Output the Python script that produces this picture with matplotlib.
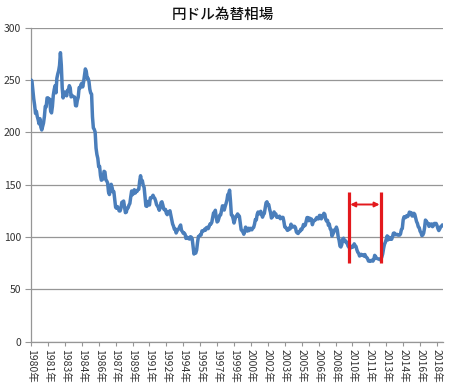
import matplotlib
matplotlib.use("Agg")
import matplotlib.pyplot as plt
import numpy as np

plt.rcParams['font.family'] = ['Noto Sans CJK JP', 'DejaVu Sans']

# Monthly USD/JPY rates, Jan 1980 - Jul 2018
y1980 = [250, 249, 240, 232, 226, 218, 220, 215, 212, 208, 213, 205]
y1981 = [202.2, 205.7, 208.8, 215.1, 224.8, 224.2, 232.8, 232.9, 229.8, 231.6, 220.3, 218.5]
y1982 = [224.7, 235.4, 240.7, 244.5, 237.7, 251.5, 255.6, 258.7, 263.8, 276.0, 264.1, 242.5]
y1983 = [232.8, 236.0, 238.4, 237.7, 234.8, 240.1, 240.6, 244.5, 242.4, 233.8, 235.2, 234.3]
y1984 = [233.8, 233.6, 225.4, 225.2, 230.5, 233.5, 242.6, 242.2, 245.4, 246.8, 243.3, 247.9]
y1985 = [254.1, 260.5, 258.4, 251.7, 251.6, 248.8, 241.1, 237.5, 236.5, 214.7, 204.1, 202.8]
y1986 = [200.1, 184.9, 178.7, 175.1, 167.0, 167.5, 158.6, 154.2, 154.7, 156.5, 162.7, 162.0]
y1987 = [154.5, 153.5, 151.6, 143.0, 140.5, 144.6, 150.3, 147.3, 143.3, 143.3, 135.4, 128.3]
y1988 = [127.4, 129.0, 127.2, 124.9, 124.8, 127.5, 133.1, 133.6, 134.3, 128.5, 123.2, 123.7]
y1989 = [127.4, 127.8, 130.4, 132.0, 138.4, 143.9, 140.4, 141.5, 145.1, 141.9, 143.5, 143.5]
y1990 = [145.1, 145.5, 153.2, 158.5, 153.5, 153.8, 149.3, 147.4, 138.4, 129.6, 129.2, 133.9]
y1991 = [133.7, 130.5, 137.4, 137.1, 138.2, 139.8, 137.8, 136.8, 134.3, 130.8, 129.6, 128.0]
y1992 = [125.5, 127.7, 132.9, 133.6, 130.6, 126.8, 125.8, 126.3, 122.6, 121.3, 123.9, 123.9]
y1993 = [125.0, 120.8, 117.0, 112.4, 110.3, 107.4, 107.7, 103.8, 105.7, 107.0, 107.9, 109.9]
y1994 = [111.4, 106.3, 105.1, 103.5, 103.8, 102.5, 98.6, 99.9, 98.8, 98.4, 98.0, 100.2]
y1995 = [99.8, 98.2, 90.8, 83.7, 85.2, 84.6, 87.4, 94.7, 100.5, 100.7, 101.9, 101.9]
y1996 = [105.8, 105.8, 105.9, 107.4, 106.5, 108.8, 109.2, 107.9, 109.9, 112.4, 112.3, 113.9]
y1997 = [118.2, 123.0, 122.6, 125.5, 118.9, 114.3, 115.1, 117.9, 120.9, 121.1, 125.4, 129.7]
y1998 = [129.6, 125.7, 129.0, 131.8, 135.0, 140.5, 140.7, 144.7, 134.5, 121.1, 120.6, 117.4]
y1999 = [113.3, 116.7, 119.6, 119.8, 122.0, 120.7, 119.8, 113.2, 106.9, 105.9, 104.7, 102.6]
y2000 = [105.3, 109.4, 106.3, 105.6, 108.3, 106.1, 108.2, 108.1, 106.8, 108.4, 109.0, 112.2]
y2001 = [116.7, 116.2, 121.5, 123.8, 122.0, 122.3, 124.5, 121.5, 118.9, 121.3, 122.4, 127.3]
y2002 = [132.7, 133.6, 131.1, 130.8, 126.4, 123.3, 118.1, 119.0, 120.5, 123.9, 121.6, 121.9]
y2003 = [118.8, 119.3, 118.7, 119.9, 117.4, 118.3, 118.7, 118.7, 114.8, 109.5, 109.2, 107.7]
y2004 = [106.3, 106.7, 108.5, 107.7, 112.2, 109.4, 109.5, 110.2, 110.1, 108.9, 104.8, 103.8]
y2005 = [103.3, 104.9, 105.3, 107.4, 106.9, 108.8, 111.9, 110.6, 111.2, 114.9, 118.5, 118.5]
y2006 = [115.5, 117.9, 117.3, 117.1, 111.7, 114.6, 115.6, 115.9, 117.2, 118.6, 117.3, 117.3]
y2007 = [120.6, 120.5, 117.3, 118.8, 120.8, 122.6, 121.6, 116.7, 115.0, 115.9, 111.1, 112.4]
y2008 = [107.8, 107.2, 100.8, 102.6, 104.4, 106.9, 106.9, 109.4, 106.6, 100.1, 96.9, 91.3]
y2009 = [90.4, 92.6, 97.9, 98.8, 96.4, 96.6, 94.5, 94.9, 91.4, 90.3, 89.1, 89.5]
y2010 = [91.1, 90.1, 90.7, 93.4, 91.8, 90.9, 87.7, 85.4, 84.4, 81.8, 82.4, 83.4]
y2011 = [82.6, 82.6, 81.7, 83.2, 81.1, 80.4, 79.3, 77.0, 76.8, 76.7, 77.5, 77.8]
y2012 = [76.9, 78.5, 82.4, 81.3, 79.7, 79.3, 79.0, 78.7, 78.2, 78.9, 80.9, 83.9]
y2013 = [89.1, 93.1, 94.9, 97.8, 101.0, 97.2, 99.7, 97.8, 99.2, 97.8, 100.1, 103.5]
y2014 = [103.8, 102.1, 102.3, 102.5, 101.8, 102.1, 101.7, 102.9, 107.1, 108.0, 116.4, 119.3]
y2015 = [118.3, 118.8, 120.4, 119.5, 120.8, 123.7, 123.3, 123.2, 120.0, 120.1, 122.6, 121.6]
y2016 = [118.2, 114.7, 112.9, 109.6, 108.9, 105.5, 104.1, 101.3, 101.8, 103.7, 108.6, 116.1]
y2017 = [115.1, 113.2, 112.9, 110.1, 112.2, 110.9, 112.4, 109.8, 111.0, 112.9, 112.8, 112.9]
y2018 = [110.9, 108.0, 106.1, 107.6, 109.7, 110.1, 111.5]

rates = (y1980 + y1981 + y1982 + y1983 + y1984 + y1985 + y1986 + y1987 + y1988 + y1989 +
         y1990 + y1991 + y1992 + y1993 + y1994 + y1995 + y1996 + y1997 + y1998 + y1999 +
         y2000 + y2001 + y2002 + y2003 + y2004 + y2005 + y2006 + y2007 + y2008 + y2009 +
         y2010 + y2011 + y2012 + y2013 + y2014 + y2015 + y2016 + y2017 + y2018)

tick_labels = ['1980年', '1981年', '1983年', '1984年', '1986年', '1987年', '1989年',
               '1991年', '1992年', '1994年', '1995年', '1997年', '1999年', '2000年',
               '2002年', '2003年', '2005年', '2006年', '2008年', '2010年', '2011年',
               '2013年', '2014年', '2016年', '2018年']
label_step = 19  # months between category labels

# annotated period (month index from Jan 1980)
period_start = (2009 - 1980) * 12 + 9   # Oct 2009
period_end = (2012 - 1980) * 12 + 9     # Oct 2012
period_low, period_high, arrow_level = 75, 143, 131

title = '円ドル為替相場'

fig = plt.figure(figsize=(4.5, 3.83), dpi=100)
ax = fig.add_axes([0.068, 0.108, 0.916, 0.82])

n = len(rates)
x = np.arange(n)
ax.plot(x, rates, color='#4A7EBB', lw=2.5, solid_joinstyle='round',
        solid_capstyle='round', zorder=3)

ax.set_xlim(-0.5, n - 0.5)
ax.set_ylim(0, 300)
ax.set_yticks(np.arange(0, 301, 50))
ax.yaxis.grid(True, color='#969696', lw=0.9)
ax.set_axisbelow(True)

ticks = np.arange(len(tick_labels)) * label_step
ax.set_xticks(ticks)
ax.set_xticklabels(tick_labels, rotation=270, fontsize=7.5, va='top', ha='center',
                   color='#333333')
ax.tick_params(axis='x', length=3, color='#969696', pad=2)
ax.tick_params(axis='y', length=4, color='#969696', labelsize=7.5, pad=3,
               labelcolor='#333333')

for s in ['top', 'right']:
    ax.spines[s].set_visible(False)
for s in ['left', 'bottom']:
    ax.spines[s].set_color('#969696')
    ax.spines[s].set_linewidth(0.9)

red = '#E3191D'
for xp in (period_start, period_end):
    ax.plot([xp, xp], [period_low, period_high], color=red, lw=2.3, zorder=4,
            solid_capstyle='butt')
ax.annotate('', xy=(period_start + 1.5, arrow_level), xytext=(period_end - 1.5, arrow_level),
            arrowprops=dict(arrowstyle='<|-|>', color=red, lw=1.4,
                            mutation_scale=7, shrinkA=0, shrinkB=0), zorder=4)

fig.text(0.495, 0.962, title, ha='center', va='center', fontsize=10.5,
         fontweight='medium', color='#111111')

fig.savefig('out.png', dpi=100)
